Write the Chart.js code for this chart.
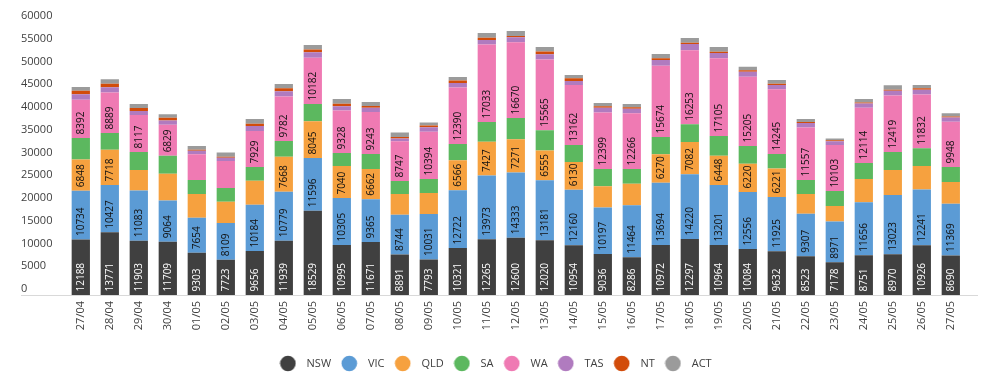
<!DOCTYPE html>
<html>
<head>
<meta charset="utf-8">
<script src="https://cdn.jsdelivr.net/npm/chart.js@4/dist/chart.umd.min.js"></script>
<style>
  html, body { margin: 0; padding: 0; background: #ffffff; }
  #wrap { width: 986px; height: 381px; }
</style>
</head>
<body>
<div id="wrap"><canvas id="c" width="986" height="381"></canvas></div>
<script>
const categories = ['27/04','28/04','29/04','30/04','01/05','02/05','03/05','04/05','05/05','06/05','07/05','08/05','09/05','10/05','11/05','12/05','13/05','14/05','15/05','16/05','17/05','18/05','19/05','20/05','21/05','22/05','23/05','24/05','25/05','26/05','27/05'];

const nsw = [12188,13771,11903,11709,9303,7723,9656,11939,18529,10995,11671,8891,7793,10321,12265,12600,12020,10954,9036,8286,10972,12297,10964,10084,9632,8523,7178,8751,8970,10926,8690];
const vic = [10734,10427,11083,9064,7654,8109,10184,10779,11596,10305,9365,8744,10031,12722,13973,14333,13181,12160,10197,11464,13694,14220,13201,12556,11925,9307,8971,11656,13023,12241,11369];
const qld = [6848,7718,4490,5850,5240,4680,5290,7668,8045,7040,6662,4570,4600,6566,7427,7271,6555,6130,4650,4720,6270,7082,6448,6220,6221,4370,3410,5090,5480,5190,4780];
const sa  = [4740,3690,3960,3960,3080,3000,3000,3470,3810,2870,3300,2860,3080,3580,4360,4700,4440,3730,3810,3220,3790,3920,4340,3890,3220,3080,3300,3520,3960,3880,3300];
const wa  = [8392,8889,8117,6829,5640,5950,7929,9782,10182,9328,9243,8747,10394,12390,17033,16670,15565,13162,12399,12266,15674,16253,17105,15205,14245,11557,10103,12114,12419,11832,9948];
const tas = [1200,1150,900,940,810,730,1080,1130,1180,930,940,560,960,1000,990,1060,1140,910,1080,1000,1250,1400,1140,1130,920,970,820,930,1060,1060,900];
const nt  = [800,800,660,590,220,220,510,660,590,590,370,370,370,590,510,290,590,590,290,290,370,290,290,290,290,220,220,220,220,290,220];
const act = [800,1000,880,800,800,880,1030,950,1030,1030,880,950,660,730,1030,1100,1030,730,730,730,950,1030,1030,810,810,660,370,810,950,730,730];

const yTicksMax = 60000;
const yTickStep = 5000;
const LABEL_MIN = 6000;

const series = [
  { label: 'NSW', data: nsw, color: '#404040', showValues: true,  valueColor: '#ffffff' },
  { label: 'VIC', data: vic, color: '#5b9bd5', showValues: true,  valueColor: '#111111' },
  { label: 'QLD', data: qld, color: '#f6a13f', showValues: true,  valueColor: '#111111' },
  { label: 'SA',  data: sa,  color: '#5cb85f', showValues: false, valueColor: '#111111' },
  { label: 'WA',  data: wa,  color: '#ef7ab3', showValues: true,  valueColor: '#111111' },
  { label: 'TAS', data: tas, color: '#b07bbf', showValues: false, valueColor: '#111111' },
  { label: 'NT',  data: nt,  color: '#d24c0a', showValues: false, valueColor: '#111111' },
  { label: 'ACT', data: act, color: '#9b9b9b', showValues: false, valueColor: '#111111' }
];

Chart.defaults.font.family = "'Open Sans', 'DejaVu Sans', sans-serif";
Chart.defaults.color = '#404040';

function circleCanvas(color) {
  const c = document.createElement('canvas');
  c.width = 17; c.height = 17;
  const g = c.getContext('2d');
  g.fillStyle = color;
  g.beginPath();
  g.arc(8.5, 8.5, 7.8, 0, Math.PI * 2);
  g.fill();
  return c;
}

const valueLabels = {
  id: 'valueLabels',
  afterDatasetsDraw(chart) {
    const ctx = chart.ctx;
    ctx.save();
    ctx.font = "10px 'Open Sans', 'DejaVu Sans', sans-serif";
    ctx.textAlign = 'left';
    ctx.textBaseline = 'middle';
    chart.data.datasets.forEach((ds, di) => {
      if (!ds.showValues) return;
      const meta = chart.getDatasetMeta(di);
      meta.data.forEach((el, i) => {
        const v = ds.data[i];
        if (v == null || v < LABEL_MIN) return;
        const p = el.getProps(['x', 'y', 'base'], true);
        ctx.save();
        ctx.translate(p.x, p.base - 3.5);
        ctx.rotate(-Math.PI / 2);
        ctx.fillStyle = ds.valueColor;
        ctx.fillText(String(v), 0, 0.5);
        ctx.restore();
      });
    });
    ctx.restore();
  }
};

const axisLine = {
  id: 'axisLine',
  beforeDatasetsDraw(chart) {
    const ctx = chart.ctx;
    const y = Math.round(chart.chartArea.bottom) + 0.5;
    ctx.save();
    ctx.strokeStyle = '#d9d9d9';
    ctx.lineWidth = 1;
    ctx.beginPath();
    ctx.moveTo(21, y);
    ctx.lineTo(978, y);
    ctx.stroke();
    ctx.restore();
  }
};

new Chart(document.getElementById('c'), {
  type: 'bar',
  data: {
    labels: categories,
    datasets: series.map(s => ({
      label: s.label,
      data: s.data,
      backgroundColor: s.color,
      borderWidth: 0,
      barPercentage: 0.63,
      categoryPercentage: 1.0,
      showValues: s.showValues,
      valueColor: s.valueColor
    }))
  },
  options: {
    responsive: false,
    animation: false,
    devicePixelRatio: 1,
    layout: { padding: { left: 21, right: 20.7, top: 22, bottom: 2 } },
    plugins: {
      tooltip: { enabled: false },
      legend: {
        position: 'bottom',
        labels: {
          usePointStyle: true,
          pointStyleWidth: 26.4,
          padding: 5,
          color: '#404040',
          font: { size: 11 },
          generateLabels(chart) {
            const items = Chart.defaults.plugins.legend.labels.generateLabels(chart);
            return items.map((it, i) => Object.assign(it, { pointStyle: circleCanvas(series[i].color) }));
          }
        }
      }
    },
    scales: {
      x: {
        stacked: true,
        grid: { display: false, drawTicks: false },
        border: { display: false },
        ticks: {
          autoSkip: false,
          minRotation: 90,
          maxRotation: 90,
          padding: 6,
          color: '#404040',
          font: { size: 11 }
        },
        afterFit(scale) { scale.height = 381 - 295 - 2 - 26; }
      },
      y: {
        stacked: true,
        min: 0,
        max: yTicksMax,
        grid: { display: false, drawTicks: false },
        border: { display: false },
        ticks: {
          stepSize: yTickStep,
          crossAlign: 'far',
          labelOffset: -6,
          color: '#404040',
          font: { size: 11 },
          callback: (value) => String(value)
        },
        afterFit(scale) { scale.width = 45.3; }
      }
    }
  },
  plugins: [axisLine, valueLabels]
});
</script>
</body>
</html>
